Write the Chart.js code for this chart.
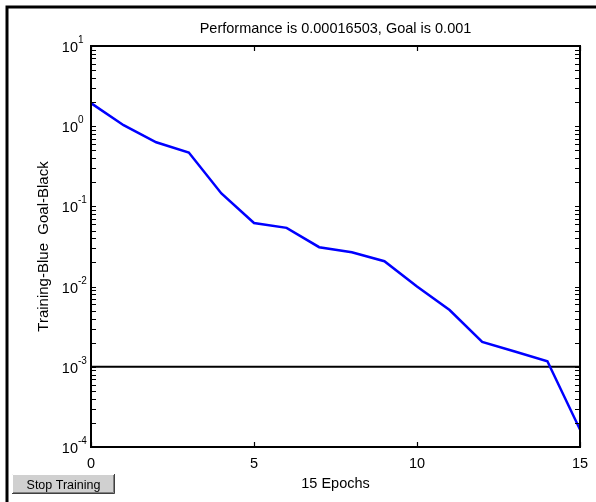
<!DOCTYPE html>
<html>
<head>
<meta charset="utf-8">
<script src="https://cdn.jsdelivr.net/npm/chart.js@4.4.1/dist/chart.umd.min.js"></script>
<style>
  html, body { margin: 0; padding: 0; background: #fff; }
  #wrap { position: relative; width: 596px; height: 502px; }
</style>
</head>
<body>
<div id="wrap"><canvas id="chart" width="596" height="502"></canvas></div>
<script>
'use strict';

// training record
const epochs = [0, 1, 2, 3, 4, 5, 6, 7, 8, 9, 10, 11, 12, 13, 14, 15];
const trainingPerf = [1.94, 1.03, 0.63, 0.47, 0.145, 0.062, 0.054, 0.031, 0.0268, 0.0207,
  0.0100, 0.0051, 0.00204, 0.00155, 0.00117, 0.00016503];
const goal = 0.001;
const goalEpochs = [0, 15];

const xTicks = [0, 5, 10, 15];
const yExponents = [1, 0, -1, -2, -3, -4];

const titleText = 'Performance is 0.00016503, Goal is 0.001';
const xTitle = '15 Epochs';
const yTitle = 'Training-Blue  Goal-Black';

const FONT = '"Liberation Sans", Arial, sans-serif';

let canvasElem = document.getElementById('chart');

// frame, box, inward ticks, labels and the button
const matlabPlot = {
  id: 'matlabPlot',
  beforeDraw(chart) {
    const ctx = chart.ctx;
    ctx.save();
    ctx.fillStyle = '#fff';
    ctx.fillRect(0, 0, chart.width, chart.height);
    ctx.strokeStyle = '#000';
    ctx.lineWidth = 3;
    ctx.beginPath();
    ctx.moveTo(7, chart.height);
    ctx.lineTo(7, 7);
    ctx.lineTo(chart.width, 7);
    ctx.stroke();
    ctx.restore();
  },
  afterDraw(chart) {
    const ctx = chart.ctx;
    const area = chart.chartArea;
    const xs = chart.scales.x;
    const ys = chart.scales.y;
    ctx.save();

    // axes box
    ctx.strokeStyle = '#000';
    ctx.lineWidth = 2;
    ctx.strokeRect(area.left, area.top, area.right - area.left, area.bottom - area.top);

    // tick marks pointing inward
    ctx.lineWidth = 1.2;
    ctx.beginPath();
    xTicks.forEach(v => {
      const px = Math.round(xs.getPixelForValue(v)) + 0.5;
      ctx.moveTo(px, area.bottom);
      ctx.lineTo(px, area.bottom - 5);
      ctx.moveTo(px, area.top);
      ctx.lineTo(px, area.top + 5);
    });
    for (let e = -4; e <= 1; e++) {
      for (let m = 1; m <= 9; m++) {
        const v = m * Math.pow(10, e);
        if (v > 10 || (e === 1 && m > 1)) continue;
        const py = Math.round(ys.getPixelForValue(v)) + 0.5;
        ctx.moveTo(area.left, py);
        ctx.lineTo(area.left + 5, py);
        ctx.moveTo(area.right, py);
        ctx.lineTo(area.right - 5, py);
      }
    }
    ctx.stroke();

    ctx.fillStyle = '#000';

    // x tick labels
    ctx.font = '14.5px ' + FONT;
    ctx.textAlign = 'center';
    ctx.textBaseline = 'alphabetic';
    xTicks.forEach(v => {
      ctx.fillText(String(v), xs.getPixelForValue(v), area.bottom + 21);
    });

    // y tick labels as 10 with raised exponent
    yExponents.forEach(ex => {
      const py = ys.getPixelForValue(Math.pow(10, ex));
      ctx.font = '14.5px ' + FONT;
      ctx.textAlign = 'right';
      ctx.fillText('10', area.left - 13, py + 6);
      ctx.font = '10px ' + FONT;
      ctx.textAlign = 'left';
      ctx.fillText(String(ex), area.left - 13, py - 3);
    });

    // titles
    const cx = (area.left + area.right) / 2;
    ctx.font = '14.5px ' + FONT;
    ctx.textAlign = 'center';
    ctx.fillText(titleText, cx, 33);
    ctx.fillText(xTitle, cx, area.bottom + 41);
    ctx.save();
    ctx.translate(48, (area.top + area.bottom) / 2);
    ctx.rotate(-Math.PI / 2);
    ctx.font = '15px ' + FONT;
    ctx.fillText(yTitle, 0, 0);
    ctx.restore();

    // Stop Training button
    const bx = 12, by = 474, bw = 103, bh = 20;
    ctx.fillStyle = '#d0d0d0';
    ctx.fillRect(bx, by, bw, bh);
    ctx.lineWidth = 1;
    ctx.strokeStyle = '#ffffff';
    ctx.beginPath();
    ctx.moveTo(bx + 0.5, by + bh);
    ctx.lineTo(bx + 0.5, by + 0.5);
    ctx.lineTo(bx + bw, by + 0.5);
    ctx.stroke();
    ctx.strokeStyle = '#404040';
    ctx.beginPath();
    ctx.moveTo(bx, by + bh - 0.5);
    ctx.lineTo(bx + bw - 0.5, by + bh - 0.5);
    ctx.lineTo(bx + bw - 0.5, by);
    ctx.stroke();
    ctx.strokeStyle = '#808080';
    ctx.beginPath();
    ctx.moveTo(bx + 1, by + bh - 1.5);
    ctx.lineTo(bx + bw - 1.5, by + bh - 1.5);
    ctx.lineTo(bx + bw - 1.5, by + 1);
    ctx.stroke();
    ctx.fillStyle = '#000';
    ctx.font = '12.5px ' + FONT;
    ctx.textAlign = 'center';
    ctx.fillText('Stop Training', bx + bw / 2, by + 14.5);

    ctx.restore();
  }
};

function renderChart() {
  const trainingPoints = epochs.map((e, i) => ({ x: e, y: trainingPerf[i] }));
  const goalPoints = goalEpochs.map(e => ({ x: e, y: goal }));
  return new Chart(canvasElem, {
    type: 'line',
    data: {
      datasets: [
        {
          label: 'Training',
          data: trainingPoints,
          borderColor: '#0000ff',
          borderWidth: 2.5,
          pointRadius: 0,
          tension: 0,
        },
        {
          label: 'Goal',
          data: goalPoints,
          borderColor: '#000000',
          borderWidth: 2,
          pointRadius: 0,
          tension: 0,
        },
      ],
    },
    options: {
      responsive: false,
      animation: false,
      layout: {
        padding: { top: 46, right: 16, left: 0, bottom: 0 },
      },
      plugins: {
        legend: { display: false },
        tooltip: { enabled: false },
      },
      scales: {
        x: {
          type: 'linear',
          min: 0,
          max: 15,
          grid: { display: false, drawTicks: false },
          border: { display: false },
          ticks: { display: false },
          afterFit(scale) { scale.height = 55; },
        },
        y: {
          type: 'logarithmic',
          min: 1e-4,
          max: 10,
          grid: { display: false, drawTicks: false },
          border: { display: false },
          ticks: { display: false },
          afterFit(scale) { scale.width = 91; },
        },
      },
    },
    plugins: [matlabPlot],
  });
}

renderChart();
</script>
</body>
</html>
